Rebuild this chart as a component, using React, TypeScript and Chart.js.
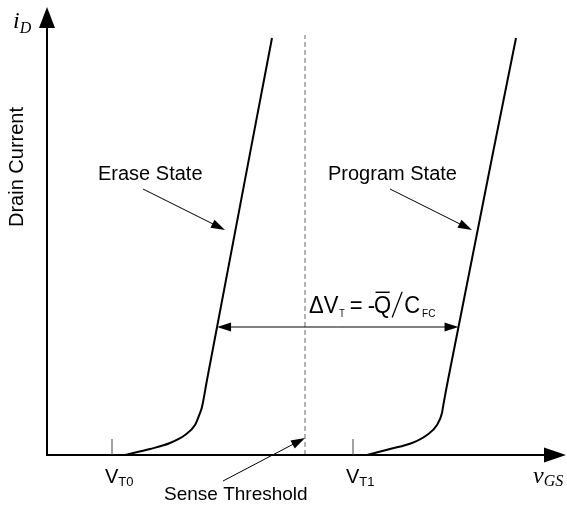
import React, { useEffect, useRef } from "react";
import { Chart, registerables } from "chart.js";

Chart.register(...registerables);

// ---- data (vGS in V, iD in arbitrary units) ----
const VGS_ERASE = [1.56, 2.06, 2.46, 2.76, 2.96, 3.06, 3.1, 3.2, 4.5];
const ID_ERASE = [0, 0.15, 0.3, 0.5, 0.75, 1.05, 1.2, 1.875, 10.425];
const VGS_PROGRAM = [6.4, 6.86, 7.3, 7.6, 7.8, 7.9, 7.92, 8.02, 9.38];
const ID_PROGRAM = [0, 0.15, 0.3, 0.5, 0.75, 1.05, 1.2, 1.875, 10.425];
const THRESHOLD_VALUES = [1.3, 6.12]; // VT0, VT1
const THRESHOLD_LABELS = ["T0", "T1"];
const SENSE_VGS = 5.16;
const SENSE_TOP = 10.5;
const DELTA_LEVEL = 3.2;

const X_MIN = -0.94;
const X_MAX = 10.4;
const Y_MIN = -1.275;
const Y_MAX = 11.375;

const SANS = '"Liberation Sans", Arial, sans-serif';
const SERIF = '"Liberation Serif", "Times New Roman", serif';

function interpX(xs: number[], ys: number[], level: number): number {
  for (let i = 0; i < ys.length - 1; i++) {
    if (level >= ys[i] && level <= ys[i + 1]) {
      const t = (level - ys[i]) / (ys[i + 1] - ys[i]);
      return xs[i] + t * (xs[i + 1] - xs[i]);
    }
  }
  return xs[xs.length - 1];
}

function arrow(
  ctx: CanvasRenderingContext2D,
  x1: number,
  y1: number,
  x2: number,
  y2: number,
  lw: number,
  hl: number,
  hw: number
) {
  const a = Math.atan2(y2 - y1, x2 - x1);
  const bx = x2 - hl * Math.cos(a);
  const by = y2 - hl * Math.sin(a);
  ctx.lineWidth = lw;
  ctx.beginPath();
  ctx.moveTo(x1, y1);
  ctx.lineTo(bx + Math.cos(a), by + Math.sin(a));
  ctx.stroke();
  ctx.beginPath();
  ctx.moveTo(x2, y2);
  ctx.lineTo(bx + (hw / 2) * Math.sin(a), by - (hw / 2) * Math.cos(a));
  ctx.lineTo(bx - (hw / 2) * Math.sin(a), by + (hw / 2) * Math.cos(a));
  ctx.closePath();
  ctx.fill();
}

const diagramPlugin = {
  id: "diagram",
  afterDatasetsDraw(chart: any) {
    const ctx: CanvasRenderingContext2D = chart.ctx;
    const xs = chart.scales.x;
    const ys = chart.scales.y;
    const px = (v: number) => xs.getPixelForValue(v);
    const py = (v: number) => ys.getPixelForValue(v);
    ctx.save();
    ctx.strokeStyle = "#000";
    ctx.fillStyle = "#000";
    ctx.lineCap = "butt";

    // sense threshold dashed line
    ctx.save();
    ctx.strokeStyle = "#9a9a9a";
    ctx.lineWidth = 1.5;
    ctx.setLineDash([5, 3]);
    ctx.beginPath();
    ctx.moveTo(px(SENSE_VGS), py(0));
    ctx.lineTo(px(SENSE_VGS), py(SENSE_TOP));
    ctx.stroke();
    ctx.restore();

    // axes
    arrow(ctx, px(0), py(0) + 1, px(0), py(11.2), 2, 21, 16);
    arrow(ctx, px(0) - 1, py(0), px(10.38), py(0), 2, 22, 15);

    // threshold ticks & labels
    ctx.strokeStyle = "#444";
    ctx.lineWidth = 1;
    THRESHOLD_VALUES.forEach((v, i) => {
      ctx.beginPath();
      ctx.moveTo(px(v), py(0));
      ctx.lineTo(px(v), py(0.4));
      ctx.stroke();
      const x0 = px(v) - 7;
      const yb = py(-0.7);
      ctx.font = `20px ${SANS}`;
      ctx.textBaseline = "alphabetic";
      ctx.textAlign = "left";
      ctx.fillText("V", x0, yb);
      const w = ctx.measureText("V").width;
      ctx.font = `13px ${SANS}`;
      ctx.fillText(THRESHOLD_LABELS[i], x0 + w, yb + 3);
    });
    ctx.strokeStyle = "#000";

    // state labels and arrows
    ctx.font = `20px ${SANS}`;
    ctx.fillText("Erase State", px(1.02), py(6.875));
    ctx.fillText("Program State", px(5.62), py(6.875));
    ctx.font = `19px ${SANS}`;
    ctx.fillText("Sense Threshold", px(2.34), py(-1.125));
    arrow(ctx, px(1.92), py(6.65), px(3.56), py(5.625), 1, 14, 9);
    arrow(ctx, px(6.86), py(6.65), px(8.5), py(5.625), 1, 14, 9);
    arrow(ctx, px(3.52), py(-0.65), px(SENSE_VGS), py(0.425), 1, 14, 9);

    // delta VT double arrow
    const xa = px(interpX(VGS_ERASE, ID_ERASE, DELTA_LEVEL));
    const xb = px(interpX(VGS_PROGRAM, ID_PROGRAM, DELTA_LEVEL));
    const yl = py(DELTA_LEVEL);
    const mid = (xa + xb) / 2;
    arrow(ctx, mid, yl, xa, yl, 1, 14, 9);
    arrow(ctx, mid, yl, xb, yl, 1, 14, 9);

    // equation
    ctx.save();
    ctx.translate(px(5.24), py(3.55));
    ctx.scale(1, 1.12);
    const big = `22px ${SANS}`;
    let cx = 0;
    ctx.font = big;
    ctx.fillText("\u0394V", cx, 0);
    cx += ctx.measureText("\u0394V").width + 1;
    ctx.font = `9px ${SANS}`;
    ctx.fillText("T", cx, 4);
    cx += ctx.measureText("T").width + 5;
    ctx.font = big;
    ctx.fillText("=", cx, 0);
    cx += ctx.measureText("=").width + 5;
    ctx.fillText("-", cx, 0);
    cx += ctx.measureText("-").width - 1;
    const qw = ctx.measureText("Q").width;
    ctx.fillText("Q", cx, 0);
    ctx.lineWidth = 1.3;
    ctx.beginPath();
    ctx.moveTo(cx + 1.5, -18.5);
    ctx.lineTo(cx + qw - 1.5, -18.5);
    ctx.stroke();
    cx += qw + 1;
    ctx.beginPath();
    ctx.moveTo(cx, 4);
    ctx.lineTo(cx + 10, -19);
    ctx.stroke();
    cx += 12;
    ctx.fillText("C", cx, 0);
    cx += ctx.measureText("C").width + 2;
    ctx.font = `10px ${SANS}`;
    ctx.fillText("FC", cx, 4);
    ctx.restore();

    // axis titles
    ctx.font = `italic 24px ${SERIF}`;
    ctx.fillText("v", px(9.72), py(-0.7));
    let vw = ctx.measureText("v").width;
    ctx.font = `italic 16px ${SERIF}`;
    ctx.fillText("GS", px(9.72) + vw, py(-0.7) + 3);
    ctx.font = `italic 24px ${SERIF}`;
    ctx.fillText("i", px(-0.68), py(10.675));
    vw = ctx.measureText("i").width;
    ctx.font = `italic 16px ${SERIF}`;
    ctx.fillText("D", px(-0.68) + vw, py(10.675) + 5);

    ctx.save();
    ctx.translate(px(-0.6), py(7.2));
    ctx.rotate(-Math.PI / 2);
    ctx.font = `20px ${SANS}`;
    ctx.textAlign = "center";
    ctx.textBaseline = "middle";
    ctx.fillText("Drain Current", 0, 0);
    ctx.restore();

    ctx.restore();
  },
};

export default function App() {
  const ref = useRef<HTMLCanvasElement | null>(null);
  useEffect(() => {
    if (!ref.current) return;
    const toPts = (xs: number[], ys: number[]) => xs.map((x, i) => ({ x, y: ys[i] }));
    const chart = new Chart(ref.current, {
      type: "scatter",
      data: {
        datasets: [
          {
            label: "Erase State",
            data: toPts(VGS_ERASE, ID_ERASE),
            showLine: true,
            borderColor: "#000",
            borderWidth: 2,
            pointRadius: 0,
            cubicInterpolationMode: "monotone",
          },
          {
            label: "Program State",
            data: toPts(VGS_PROGRAM, ID_PROGRAM),
            showLine: true,
            borderColor: "#000",
            borderWidth: 2,
            pointRadius: 0,
            cubicInterpolationMode: "monotone",
          },
        ],
      },
      options: {
        animation: false,
        responsive: true,
        maintainAspectRatio: false,
        layout: { padding: 0 },
        plugins: { legend: { display: false }, tooltip: { enabled: false } },
        scales: {
          x: { type: "linear", min: X_MIN, max: X_MAX, display: false },
          y: { type: "linear", min: Y_MIN, max: Y_MAX, display: false },
        },
      },
      plugins: [diagramPlugin],
    });
    return () => chart.destroy();
  }, []);
  return (
    <div style={{ position: "fixed", left: 0, top: 0, width: 567, height: 506, background: "#fff" }}>
      <canvas ref={ref} />
    </div>
  );
}
